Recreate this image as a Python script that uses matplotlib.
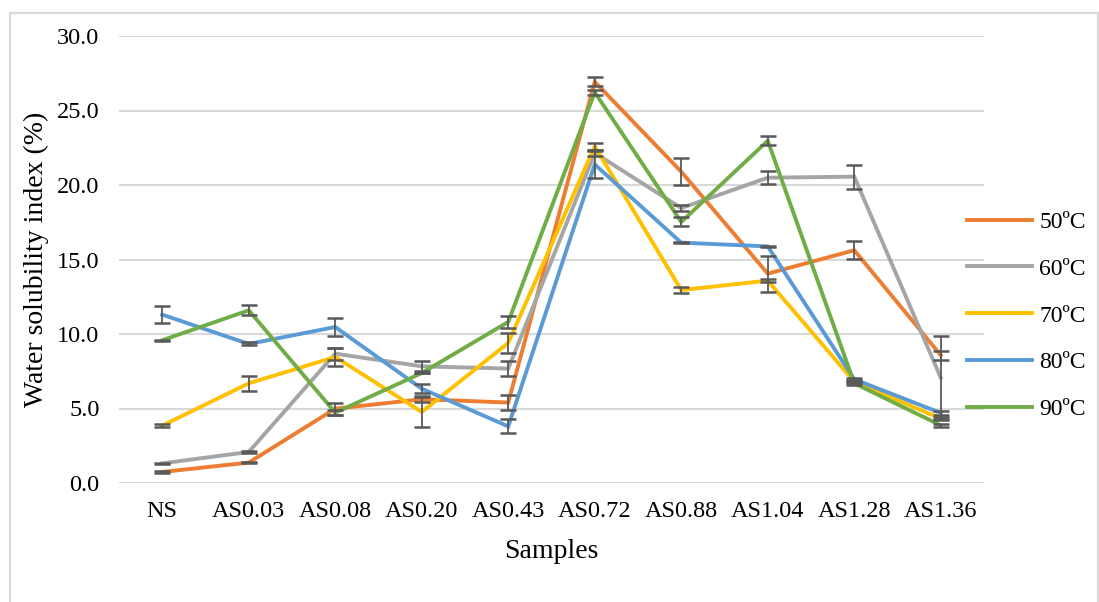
import matplotlib
matplotlib.use("Agg")
import matplotlib.pyplot as plt
from matplotlib.patches import Rectangle

samples = ["NS", "AS0.03", "AS0.08", "AS0.20", "AS0.43",
           "AS0.72", "AS0.88", "AS1.04", "AS1.28", "AS1.36"]
series_labels = ["50ºC", "60ºC", "70ºC", "80ºC", "90ºC"]

wsi_50 = [0.74, 1.37, 4.99, 5.62, 5.40, 26.93, 20.89, 14.05, 15.62, 8.58]
wsi_60 = [1.32, 2.08, 8.68, 7.83, 7.68, 22.15, 18.45, 20.49, 20.56, 7.07]
wsi_70 = [3.85, 6.69, 8.46, 4.77, 9.40, 22.60, 12.95, 13.58, 6.80, 4.32]
wsi_80 = [11.30, 9.33, 10.47, 6.33, 3.80, 21.38, 16.13, 15.88, 6.96, 4.70]
wsi_90 = [9.58, 11.59, 4.72, 7.38, 10.81, 26.22, 17.52, 22.97, 6.69, 3.87]

err_50 = [0.05, 0.05, 0.40, 0.20, 0.50, 0.30, 0.90, 1.20, 0.60, 0.30]
err_60 = [0.05, 0.05, 0.40, 0.33, 0.50, 0.20, 0.20, 0.45, 0.80, 2.80]
err_70 = [0.10, 0.50, 0.60, 1.00, 0.67, 0.25, 0.20, 0.10, 0.10, 0.10]
err_80 = [0.58, 0.10, 0.62, 0.30, 0.47, 0.90, 0.05, 0.05, 0.10, 0.15]
err_90 = [0.05, 0.33, 0.15, 0.00, 0.40, 0.17, 0.30, 0.30, 0.10, 0.10]

colours = ["#ED7D31", "#A5A5A5", "#FFC000", "#5B9BD5", "#70AD47"]

plt.rcParams["font.family"] = ["Liberation Serif", "DejaVu Serif"]

fig = plt.figure(figsize=(10.99, 6.02), dpi=100)
ax = fig.add_axes([119 / 1099, 1 - 483 / 602, 865 / 1099, 447 / 602])

# grå ramme rundt hele diagrammet
fig.patches.append(Rectangle((10 / 1099, -0.05), 1088 / 1099, 1.05 - 13 / 602,
                             transform=fig.transFigure, fill=False,
                             edgecolor="#D9D9D9", linewidth=1.5))

x = list(range(len(samples)))
alle_verdier = [wsi_50, wsi_60, wsi_70, wsi_80, wsi_90]
alle_feil = [err_50, err_60, err_70, err_80, err_90]

for i, (verdier, feil) in enumerate(zip(alle_verdier, alle_feil)):
    ax.plot(x, verdier, color=colours[i], linewidth=2.8, label=series_labels[i],
            zorder=3 + i, solid_joinstyle="miter")
    ax.errorbar(x, verdier, yerr=feil, fmt="none", ecolor="#595959",
                elinewidth=1.3, capsize=6, capthick=1.8, zorder=10)

ax.set_xlim(-0.5, 9.5)
ax.set_ylim(0, 30)
ax.set_yticks([0, 5, 10, 15, 20, 25, 30])
ax.set_yticklabels([f"{v:.1f}" for v in [0, 5, 10, 15, 20, 25, 30]])
ax.set_xticks(x)
ax.set_xticklabels(samples)
ax.tick_params(axis="both", length=0, labelsize=17.5, colors="black")
ax.tick_params(axis="y", pad=14)
ax.tick_params(axis="x", pad=13)
ax.grid(axis="y", color="#D9D9D9", linewidth=1.5)
ax.set_axisbelow(True)
for s in ax.spines.values():
    s.set_visible(False)

ax.set_ylabel("Water solubility index (%)", fontsize=20, labelpad=6)
ax.set_xlabel("Samples", fontsize=20, labelpad=12)

fig.legend(loc="upper left", bbox_to_anchor=(958 / 1099, 1 - 202 / 602),
           frameon=False, fontsize=17, handlelength=2.75, handletextpad=0.3,
           labelspacing=1.07, borderaxespad=0)

fig.savefig("out.png", dpi=100)
